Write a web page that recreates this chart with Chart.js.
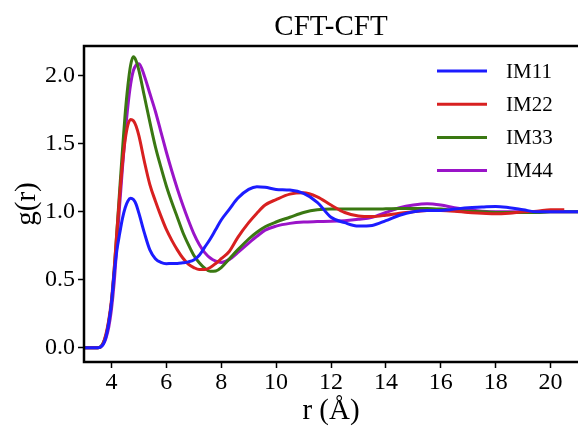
<!DOCTYPE html>
<html>
<head>
<meta charset="utf-8">
<script src="https://cdn.jsdelivr.net/npm/chart.js@4/dist/chart.umd.min.js"></script>
<style>
html, body { margin: 0; padding: 0; background: #fff; overflow: hidden; }
</style>
</head>
<body>
<canvas id="rdfChart" width="578" height="429"></canvas>
<script>
// r in Angstrom, g(r)
const rValues = [3.0, 3.5, 3.6, 3.7, 3.8, 3.9,
    4.0, 4.1, 4.2, 4.3, 4.4, 4.5, 4.6, 4.7, 4.8, 4.9,
    5.0, 5.2, 5.4, 5.6, 5.8, 6.0, 6.2, 6.4, 6.6, 6.8,
    7.0, 7.2, 7.4, 7.6, 7.8, 8.0, 8.3, 8.6, 9.0, 9.3, 9.6,
    10.0, 10.5, 11.0, 11.5, 12.0, 12.5, 13.0, 13.5, 14.0, 14.5,
    15.0, 15.5, 16.0, 16.5, 17.0, 17.5, 18.0, 18.5, 19.0, 19.5,
    20.0, 20.5, 21.0];

const im11 = [0, 0, 0.005, 0.025, 0.08, 0.18,
    0.33, 0.55, 0.72, 0.84, 0.95, 1.03, 1.08, 1.1, 1.09, 1.055,
    0.99, 0.845, 0.72, 0.655, 0.628, 0.618, 0.62, 0.62, 0.625, 0.632,
    0.645, 0.68, 0.74, 0.8, 0.87, 0.94, 1.02, 1.1, 1.165, 1.185, 1.18,
    1.165, 1.16, 1.135, 1.07, 0.96, 0.92, 0.895, 0.9, 0.935, 0.975,
    1.0, 1.01, 1.01, 1.02, 1.03, 1.035, 1.04, 1.03, 1.015, 1.0,
    1.0, 1.0, 1.0];

const im22 = [0, 0, 0.006, 0.035, 0.1, 0.2,
    0.35, 0.58, 0.86, 1.12, 1.35, 1.53, 1.64, 1.68, 1.67, 1.63,
    1.56, 1.37, 1.2, 1.08, 0.97, 0.87, 0.79, 0.72, 0.66, 0.615,
    0.59, 0.575, 0.575, 0.59, 0.62, 0.655, 0.71, 0.81, 0.92, 0.99, 1.05,
    1.09, 1.13, 1.14, 1.11, 1.05, 0.995, 0.97, 0.965, 0.975, 0.99,
    1.0, 1.01, 1.01, 1.005, 0.995, 0.99, 0.985, 0.99, 1.0, 1.005,
    1.015, 1.015, null];

const im33 = [0, 0, 0.006, 0.035, 0.09, 0.19,
    0.33, 0.57, 0.86, 1.16, 1.45, 1.72, 1.93, 2.08, 2.14, 2.11,
    2.04, 1.85, 1.66, 1.48, 1.33, 1.19, 1.07, 0.96, 0.85, 0.76,
    0.68, 0.625, 0.585, 0.562, 0.565, 0.59, 0.655, 0.72, 0.8, 0.85, 0.89,
    0.925, 0.96, 0.995, 1.015, 1.02, 1.02, 1.02, 1.02, 1.022, 1.025,
    1.025, 1.025, 1.02, 1.01, 1.005, 1.0, 0.995, 0.995, 0.995, 0.995,
    1.0, 1.0, 1.0];

const im44 = [0, 0, 0.004, 0.025, 0.07, 0.15,
    0.28, 0.48, 0.76, 1.05, 1.32, 1.57, 1.78, 1.94, 2.04, 2.08,
    2.09, 2.0, 1.87, 1.74, 1.59, 1.44, 1.3, 1.17, 1.05, 0.94,
    0.84, 0.76, 0.7, 0.66, 0.637, 0.628, 0.65, 0.7, 0.77, 0.82, 0.865,
    0.895, 0.915, 0.925, 0.928, 0.93, 0.935, 0.945, 0.96, 0.995, 1.03,
    1.05, 1.06, 1.05, 1.03, 1.015, 1.005, 1.0, 1.0, 1.0, 1.0,
    1.0, 1.0, 1.0];

const seriesNames = ['IM11', 'IM22', 'IM33', 'IM44'];
const seriesColors = ['#1c1cff', '#d82020', '#3a7812', '#9a14c8'];
const xTicks = [4, 6, 8, 10, 12, 14, 16, 18, 20];
const yTicks = [0.0, 0.5, 1.0, 1.5, 2.0];

const FONT = "'Liberation Serif', 'Times New Roman', serif";

const toPoints = (ys) => rValues.map((r, i) => ({ x: r, y: ys[i] }));

// frame (right spine is off the picture), title and legend
const decorations = {
    id: 'decorations',
    afterDatasetsDraw(chart) {
        const { ctx, chartArea: a } = chart;
        ctx.save();
        ctx.strokeStyle = '#000';
        ctx.lineWidth = 2.5;
        ctx.beginPath();
        ctx.moveTo(a.right + 2, a.top);
        ctx.lineTo(a.left, a.top);
        ctx.lineTo(a.left, a.bottom);
        ctx.lineTo(a.right + 2, a.bottom);
        ctx.stroke();

        ctx.fillStyle = '#000';
        ctx.font = '29px ' + FONT;
        ctx.textAlign = 'center';
        ctx.textBaseline = 'alphabetic';
        ctx.fillText('CFT-CFT', (a.left + a.right) / 2, 35);

        ctx.font = '21px ' + FONT;
        ctx.textAlign = 'left';
        ctx.textBaseline = 'middle';
        chart.data.datasets.forEach((ds, i) => {
            const y = 71 + i * 33.2;
            ctx.strokeStyle = ds.borderColor;
            ctx.lineWidth = 3;
            ctx.beginPath();
            ctx.moveTo(437, y);
            ctx.lineTo(487, y);
            ctx.stroke();
            ctx.fillText(ds.label, 506, y + 1);
        });
        ctx.restore();
    }
};

const ctx = document.getElementById('rdfChart').getContext('2d');
new Chart(ctx, {
    type: 'line',
    data: {
        datasets: [im11, im22, im33, im44].map((ys, i) => ({
            label: seriesNames[i],
            data: toPoints(ys),
            borderColor: seriesColors[i],
            backgroundColor: seriesColors[i],
            borderWidth: 3,
            pointRadius: 0,
            fill: false,
            cubicInterpolationMode: 'monotone'
        }))
    },
    options: {
        responsive: false,
        animation: false,
        layout: { padding: { top: 46, right: 0, left: 0, bottom: 0 } },
        plugins: {
            legend: { display: false },
            title: { display: false },
            tooltip: { enabled: false }
        },
        scales: {
            x: {
                type: 'linear',
                min: 3,
                max: 21,
                afterBuildTicks: (s) => { s.ticks = xTicks.map(v => ({ value: v })); },
                afterFit: (s) => { s.height = 67; },
                ticks: {
                    color: '#000',
                    font: { family: FONT, size: 24 },
                    padding: 0,
                    maxRotation: 0,
                    autoSkip: false
                },
                grid: {
                    drawOnChartArea: false,
                    drawTicks: true,
                    tickLength: 6,
                    tickColor: '#000',
                    tickWidth: 1.5
                },
                border: { display: false },
                title: {
                    display: true,
                    text: 'r (Å)',
                    color: '#000',
                    font: { family: FONT, size: 29 },
                    padding: { top: 0, bottom: 0 }
                }
            },
            y: {
                min: -0.105,
                max: 2.22,
                afterBuildTicks: (s) => { s.ticks = yTicks.map(v => ({ value: v })); },
                afterFit: (s) => { s.width = 84; },
                ticks: {
                    color: '#000',
                    font: { family: FONT, size: 24 },
                    padding: 3,
                    callback: (v) => Number(v).toFixed(1)
                },
                grid: {
                    drawOnChartArea: false,
                    drawTicks: true,
                    tickLength: 6,
                    tickColor: '#000',
                    tickWidth: 1.5
                },
                border: { display: false },
                title: {
                    display: true,
                    text: 'g(r)',
                    color: '#000',
                    font: { family: FONT, size: 29 },
                    padding: { top: 10, bottom: 0 }
                }
            }
        }
    },
    plugins: [decorations]
});
</script>
</body>
</html>
